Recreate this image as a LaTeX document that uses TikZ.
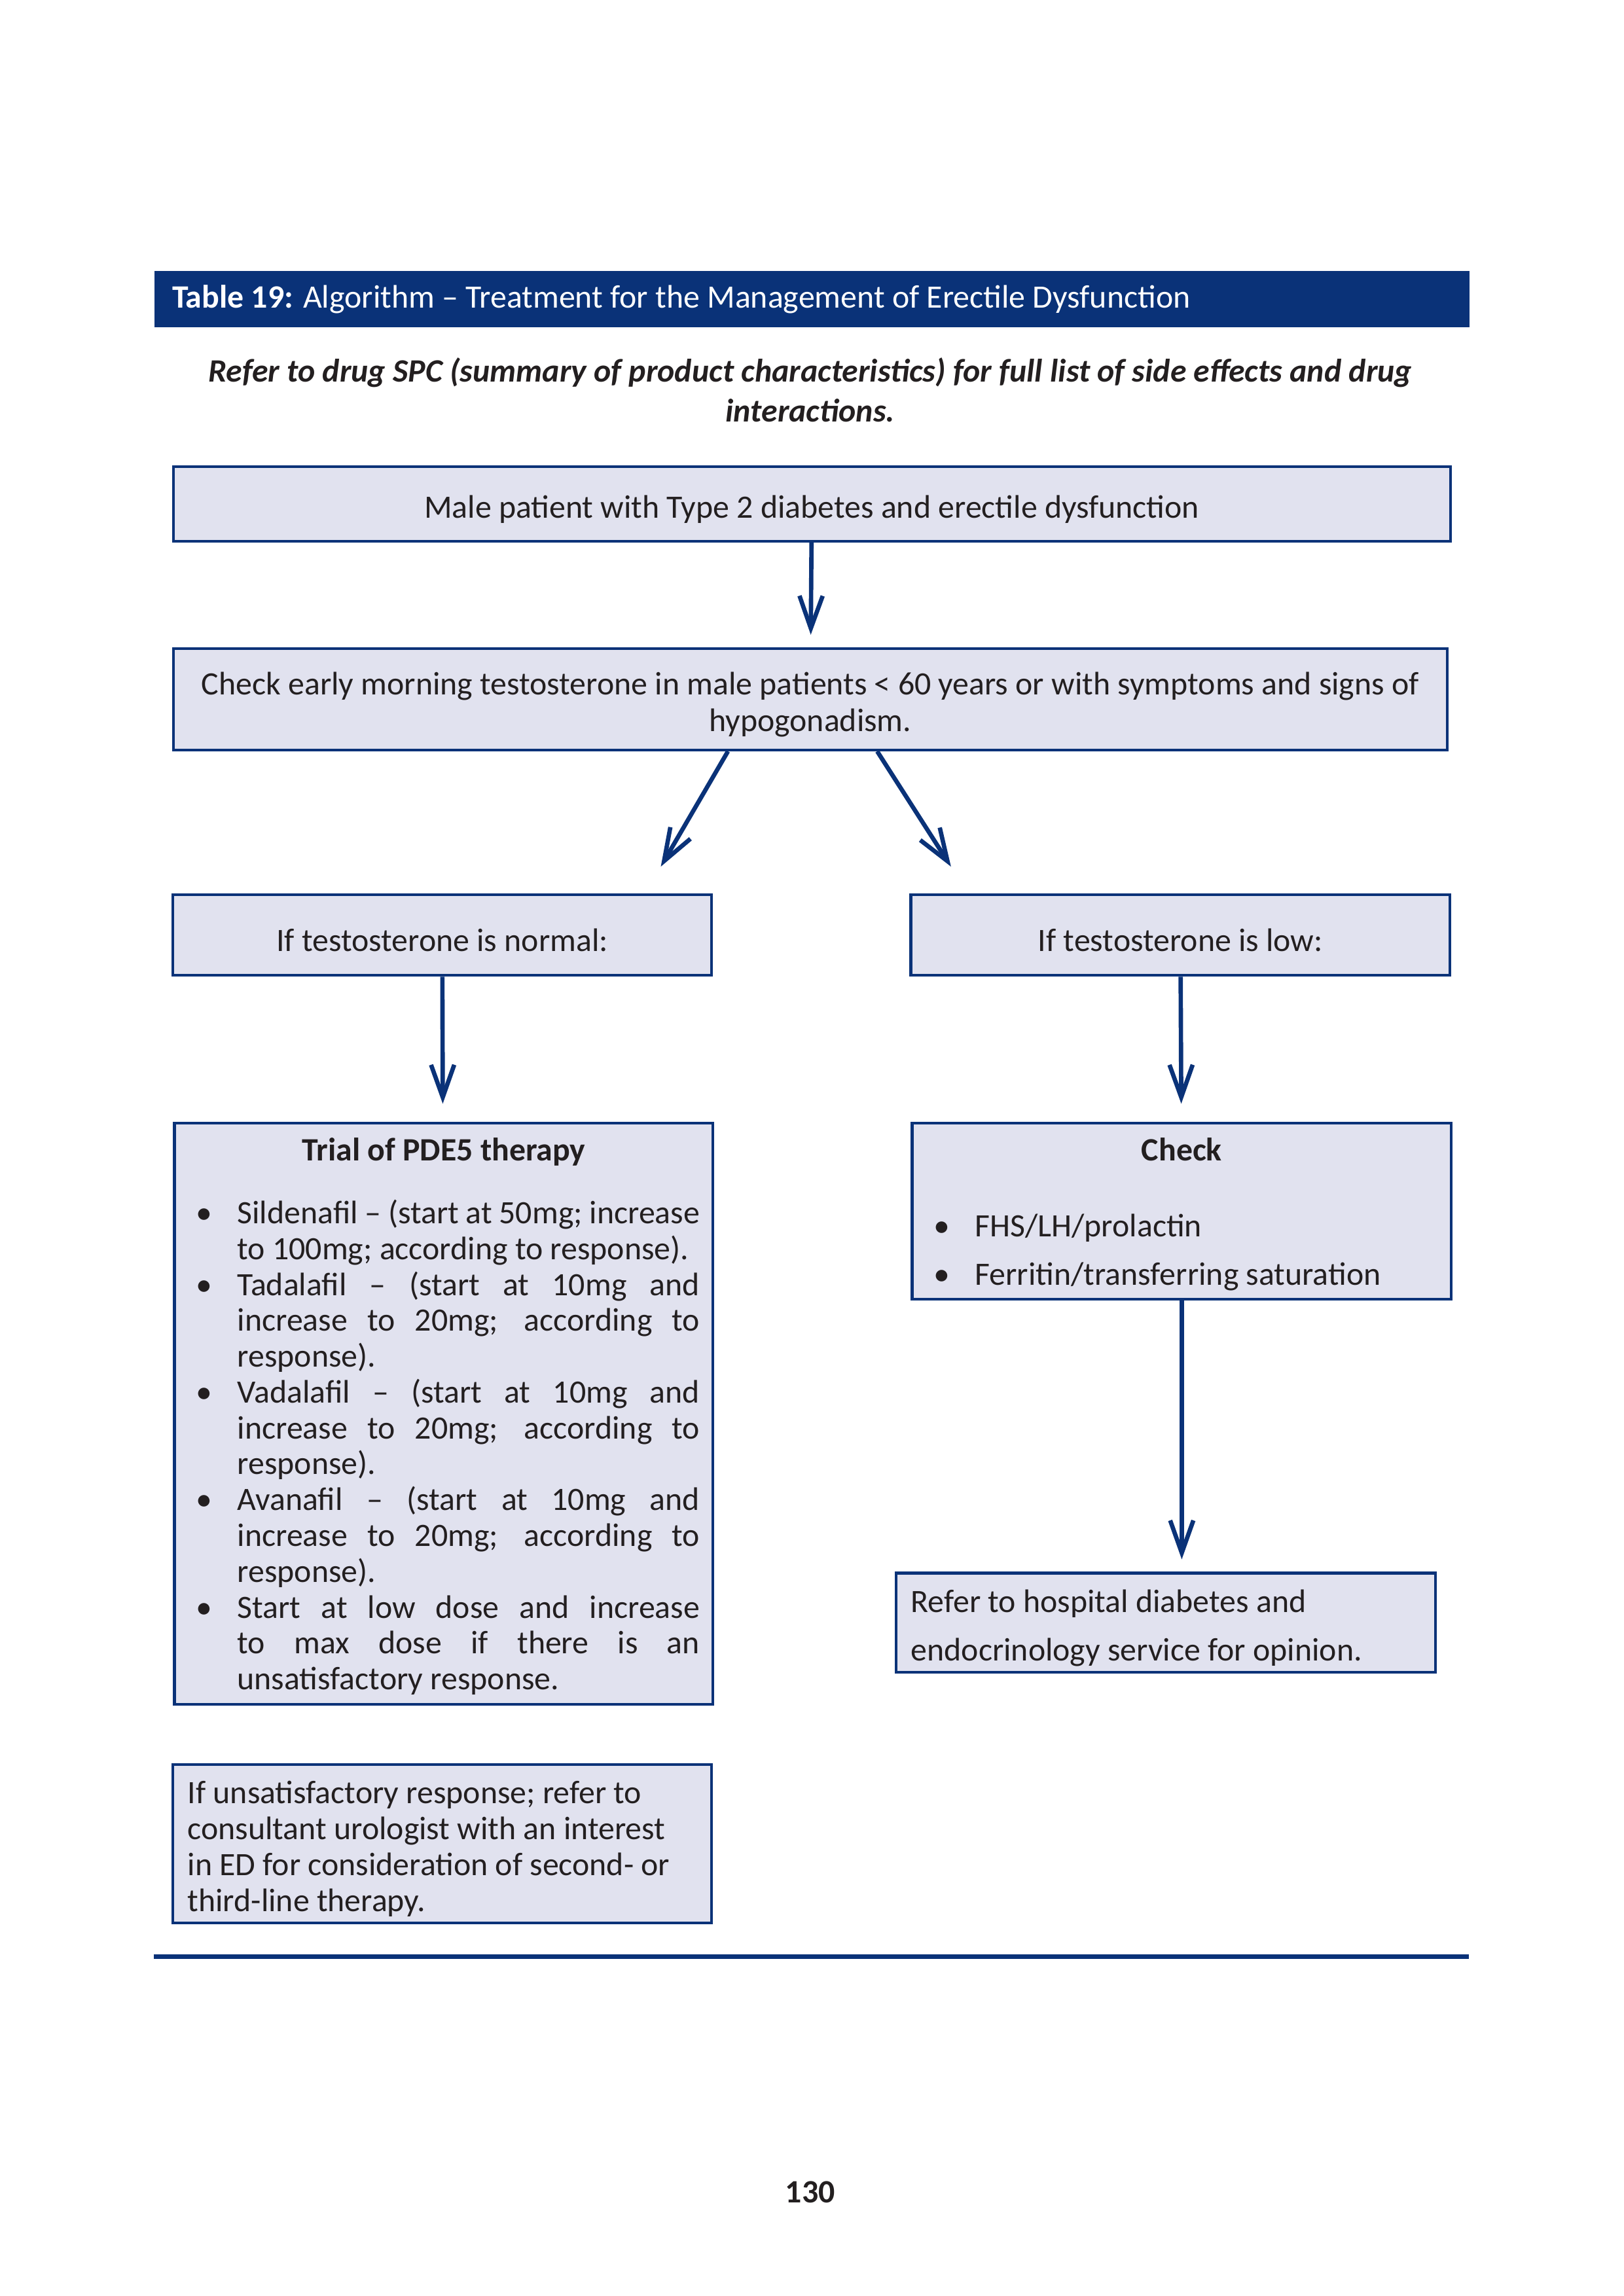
\documentclass[tikz,border=0pt]{standalone}
\usepackage{fontspec}
\setmainfont{Carlito}
\usetikzlibrary{arrows.meta, positioning, calc}
\definecolor{nhsblue}{RGB}{10,50,120}
\definecolor{boxfill}{RGB}{225,226,239}
\definecolor{txt}{RGB}{35,31,32}
\tikzset{
  flow/.style={-{Straight Barb[length=4.2mm,width=3.0mm]}, line width=1.6pt, draw=nhsblue},
  stepbox/.style={draw=nhsblue, line width=1pt, fill=boxfill, text=txt,
    inner xsep=0.19cm, inner ysep=0pt, font=\fontsize{12}{13.2}\selectfont},
}
\newcommand{\bulletpar}[1]{\par\noindent\hangindent=0.644cm\hangafter=1%
  \makebox[0.644cm][l]{\hspace{0.113cm}\textbullet}#1\par}
% text sits a little low in its box
\newcommand{\drop}[1]{\raisebox{-1.9pt}[\height][\depth]{#1}}

\begin{document}
\begin{tikzpicture}
  \fill[white] (0,0) rectangle (21,-29.7);
  \useasboundingbox (0,0) rectangle (21,-29.7);

  % heading
  \node[fill=nhsblue, minimum width=17.01cm, minimum height=0.726cm,
        inner sep=0pt, anchor=north west] (title) at (1.99,-3.50) {};
  \node[anchor=west, inner sep=0pt, text=white, font=\fontsize{12}{13.2}\selectfont]
        at ([xshift=0.23cm]title.west)
        {\textbf{Table 19:} Algorithm – Treatment for the Management of Erectile Dysfunction};
  \node[align=center, text=txt, font=\bfseries\itshape\fontsize{12}{14.6}\selectfont]
        (note) at (10.48,-5.045)
        {Refer to drug SPC (summary of product characteristics) for full list of side effects and drug\\interactions.};

  % boxes
  \node[stepbox, minimum width=16.52cm, minimum height=0.965cm] (male) at (10.50,-6.52)
        {\drop{Male patient with Type 2 diabetes and erectile dysfunction}};
  \node[stepbox, minimum width=16.48cm, minimum height=1.313cm,
        font=\fontsize{12}{13.4}\selectfont] (check) at (10.48,-9.045)
        {\drop{\parbox{16.1cm}{\centering Check early morning testosterone in male patients < 60 years or with symptoms and signs of\\hypogonadism.}}};
  \node[stepbox, minimum width=6.965cm, minimum height=1.045cm] (normal) at (5.72,-12.094)
        {\drop{If testosterone is normal:}};
  \node[stepbox, minimum width=6.975cm, minimum height=1.045cm] (low) at (15.268,-12.094)
        {\drop{If testosterone is low:}};

  \node[stepbox, inner xsep=0.17cm, anchor=north west] (pdefive) at (2.239,-14.507)
        {\begin{minipage}[c][7.52cm][t]{6.625cm}
         {\centering\rule{0pt}{0.487cm}\textbf{Trial of PDE5 therapy}\par}
         \vspace{10pt}
         \bulletpar{Sildenafil – (start at 50mg; increase\linebreak to 100mg; according to response).}
         \bulletpar{Tadalafil – (start at 10mg and\linebreak increase to 20mg; according to\linebreak response).}
         \bulletpar{Vadalafil – (start at 10mg and\linebreak increase to 20mg; according to\linebreak response).}
         \bulletpar{Avanafil – (start at 10mg and\linebreak increase to 20mg; according to\linebreak response).}
         \bulletpar{Start at low dose and increase\linebreak to max dose if there is an\linebreak unsatisfactory response.}
         \end{minipage}};
  \node[stepbox, inner xsep=0.17cm, anchor=north west, font=\fontsize{12}{17.8}\selectfont]
        (bloods) at (11.78,-14.507)
        {\begin{minipage}[c][2.279cm][t]{6.635cm}
         {\centering\rule{0pt}{0.487cm}\textbf{Check}\par}
         \vspace{10.3pt}
         \bulletpar{FHS/LH/prolactin}
         \bulletpar{Ferritin/transferring saturation}
         \end{minipage}};

  \node[stepbox, minimum width=6.975cm, minimum height=1.284cm,
        font=\fontsize{12}{17.8}\selectfont] (refer) at (15.08,-20.99)
        {\drop{\parbox{6.595cm}{\raggedright Refer to hospital diabetes and\\endocrinology service for opinion.}}};
  \node[stepbox, minimum width=6.965cm, minimum height=2.05cm] (urology) at (5.72,-23.85)
        {\drop{\parbox{6.585cm}{\raggedright If unsatisfactory response; refer to\\consultant urologist with an interest\\in ED for consideration of second- or\\third-line therapy.}}};

  % arrows
  \coordinate (tonormal) at (8.547,-11.21);
  \coordinate (tolow) at (12.30,-11.21);
  \draw[flow, shorten >=0.16cm] (male) -- (check);
  \draw[flow] ([xshift=-1.065cm]check.south) -- (tonormal);
  \draw[flow] ([xshift=0.866cm]check.south) -- (tolow);
  \draw[flow, shorten >=0.23cm] (normal) -- (pdefive);
  \draw[flow, shorten >=0.23cm] (low) -- (bloods);
  \draw[flow, shorten >=0.16cm] (bloods.south) -- (bloods.south |- refer.north);

  % foot
  \draw[nhsblue, line width=1.6pt] (1.99,-25.31) -- (19.00,-25.31);
  \node[text=txt, font=\bfseries\fontsize{12}{13.2}\selectfont] (page) at (10.48,-28.36) {130};
\end{tikzpicture}
\end{document}
